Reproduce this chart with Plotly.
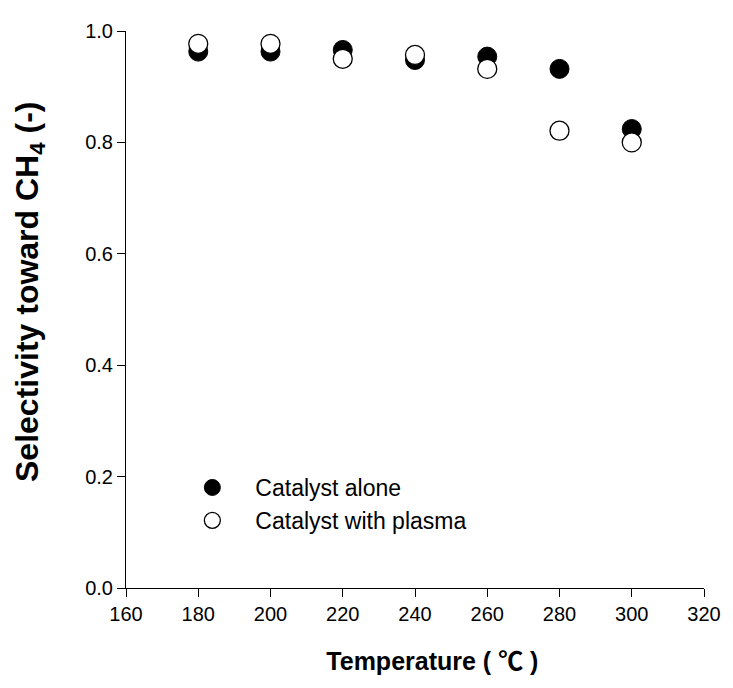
import plotly.graph_objects as go

temps = [180, 200, 220, 240, 260, 280, 300]
catalyst_alone = [0.963, 0.963, 0.966, 0.948, 0.954, 0.932, 0.824]
catalyst_plasma = [0.977, 0.977, 0.950, 0.957, 0.932, 0.821, 0.800]
x_ticks = [160, 180, 200, 220, 240, 260, 280, 300, 320]
y_ticks = [0.0, 0.2, 0.4, 0.6, 0.8, 1.0]

font_family = "Arial, Liberation Sans, sans-serif"
cjk = "font-family:Noto Sans CJK KR"

fig = go.Figure()
fig.add_trace(go.Scatter(
    x=temps, y=catalyst_alone, mode="markers", name="Catalyst alone",
    marker=dict(symbol="circle", size=19, color="black", line=dict(color="black", width=1)),
    cliponaxis=False,
))
fig.add_trace(go.Scatter(
    x=temps, y=catalyst_plasma, mode="markers", name="Catalyst with plasma",
    marker=dict(symbol="circle", size=19, color="white", line=dict(color="black", width=1.3)),
    cliponaxis=False,
))

fig.update_layout(
    width=725, height=680,
    margin=dict(l=118, r=22, t=15, b=100),
    plot_bgcolor="white", paper_bgcolor="white",
    font=dict(family=font_family, size=20, color="black"),
    showlegend=True,
    legend=dict(
        x=0.075, y=0.219, xanchor="left", yanchor="top",
        bgcolor="rgba(0,0,0,0)", font=dict(size=23, family=font_family),
        itemwidth=76, tracegroupgap=0,
    ),
)
fig.update_xaxes(
    range=[160, 320], tickvals=x_ticks, ticktext=[str(v) for v in x_ticks],
    showline=True, linecolor="black", linewidth=1, mirror=False,
    ticks="outside", ticklen=8, tickcolor="black", tickwidth=1,
    showgrid=False, zeroline=False, ticklabeloverflow="allow",
    tickfont=dict(size=20),
    title=dict(
        text="&nbsp;&nbsp;&nbsp;&nbsp;&nbsp;<b>Temperature ( <span style='" + cjk + "'>℃</span> )</b>",
        font=dict(size=25), standoff=28,
    ),
)
fig.update_yaxes(
    range=[0, 1.0], tickvals=y_ticks, tickformat=".1f",
    showline=True, linecolor="black", linewidth=1, mirror=False,
    ticks="outside", ticklen=8, tickcolor="black", tickwidth=1,
    showgrid=False, zeroline=False, ticklabeloverflow="allow",
    tickfont=dict(size=20),
    title=dict(
        text="&nbsp;&nbsp;&nbsp;&nbsp;<b>Selectivity toward CH<sub>4</sub> (-)</b>",
        font=dict(size=32), standoff=36,
    ),
)

fig.write_html("out.html")
